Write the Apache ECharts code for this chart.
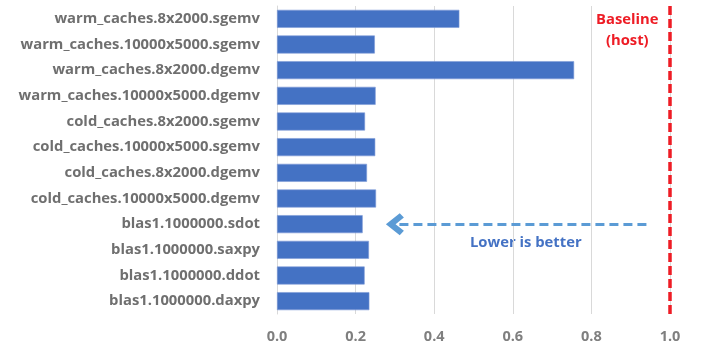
<!DOCTYPE html>
<html><head><meta charset="utf-8">
<script src="https://cdn.jsdelivr.net/npm/echarts@6/dist/echarts.min.js"></script>
<style>html,body{margin:0;padding:0;background:#fff}#c{width:704px;height:347px}</style>
</head><body><div id="c"></div>
<script>
const categories = [
  'warm_caches.8x2000.sgemv',
  'warm_caches.10000x5000.sgemv',
  'warm_caches.8x2000.dgemv',
  'warm_caches.10000x5000.dgemv',
  'cold_caches.8x2000.sgemv',
  'cold_caches.10000x5000.sgemv',
  'cold_caches.8x2000.dgemv',
  'cold_caches.10000x5000.dgemv',
  'blas1.1000000.sdot',
  'blas1.1000000.saxpy',
  'blas1.1000000.ddot',
  'blas1.1000000.daxpy'
];
const values = [0.464, 0.249, 0.756, 0.251, 0.224, 0.250, 0.229, 0.252, 0.218, 0.234, 0.223, 0.235];
const baseline = 1.0;
const arrowFrom = 0.94, arrowTo = 0.300;
const arrowRow = 'blas1.1000000.sdot';

const FONT = '"Open Sans"';
const chart = echarts.init(document.getElementById('c'), null, {renderer: 'canvas'});
chart.setOption({
  animation: false,
  grid: {left: 277, right: 34, top: 6, bottom: 33},
  xAxis: {
    type: 'value', min: 0, max: 1, interval: 0.2,
    axisLine: {show: false}, axisTick: {show: false},
    splitLine: {lineStyle: {color: '#d9d9d9', width: 1}},
    axisLabel: {formatter: v => v.toFixed(1), color: '#7f7f7f', fontWeight: 'bold',
      fontFamily: FONT, fontSize: 14.5, margin: 15}
  },
  yAxis: {
    type: 'category', data: categories, inverse: true,
    axisLine: {lineStyle: {color: '#d9d9d9'}}, axisTick: {show: false},
    axisLabel: {color: '#6f6f6f', fontWeight: 'bold', fontFamily: FONT, fontSize: 14.8, margin: 17}
  },
  series: [{
    type: 'bar', data: values, barWidth: 18,
    itemStyle: {color: '#4472c4', borderColor: '#7d9bd6', borderWidth: 0.6},
    markLine: {
      silent: true,
      symbol: 'none',
      data: [
        {xAxis: baseline,
         lineStyle: {color: '#ee1c25', type: [9, 4], width: 3.5}, label: {show: false}},
        [
          {coord: [arrowFrom, arrowRow], symbol: 'none'},
          {coord: [arrowTo, arrowRow], symbol: 'path://M0,10 L10,0 L20,10 L16,13 L10,7 L4,13 Z', symbolSize: [22, 18]}
        ]
      ],
      lineStyle: {color: '#5b9bd5', type: [9, 5], width: 3},
      label: {show: false}
    }
  }],
  graphic: [
    {type: 'text', left: 596, top: 9, style: {text: 'Baseline\n(host)', fill: '#ee1c25',
      font: 'bold 14.8px ' + FONT, textAlign: 'center', lineHeight: 21, x: 32}},
    {type: 'text', left: 470, top: 235, style: {text: 'Lower is better', fill: '#4472c4',
      font: 'bold 14.8px ' + FONT}}
  ]
});
</script></body></html>
